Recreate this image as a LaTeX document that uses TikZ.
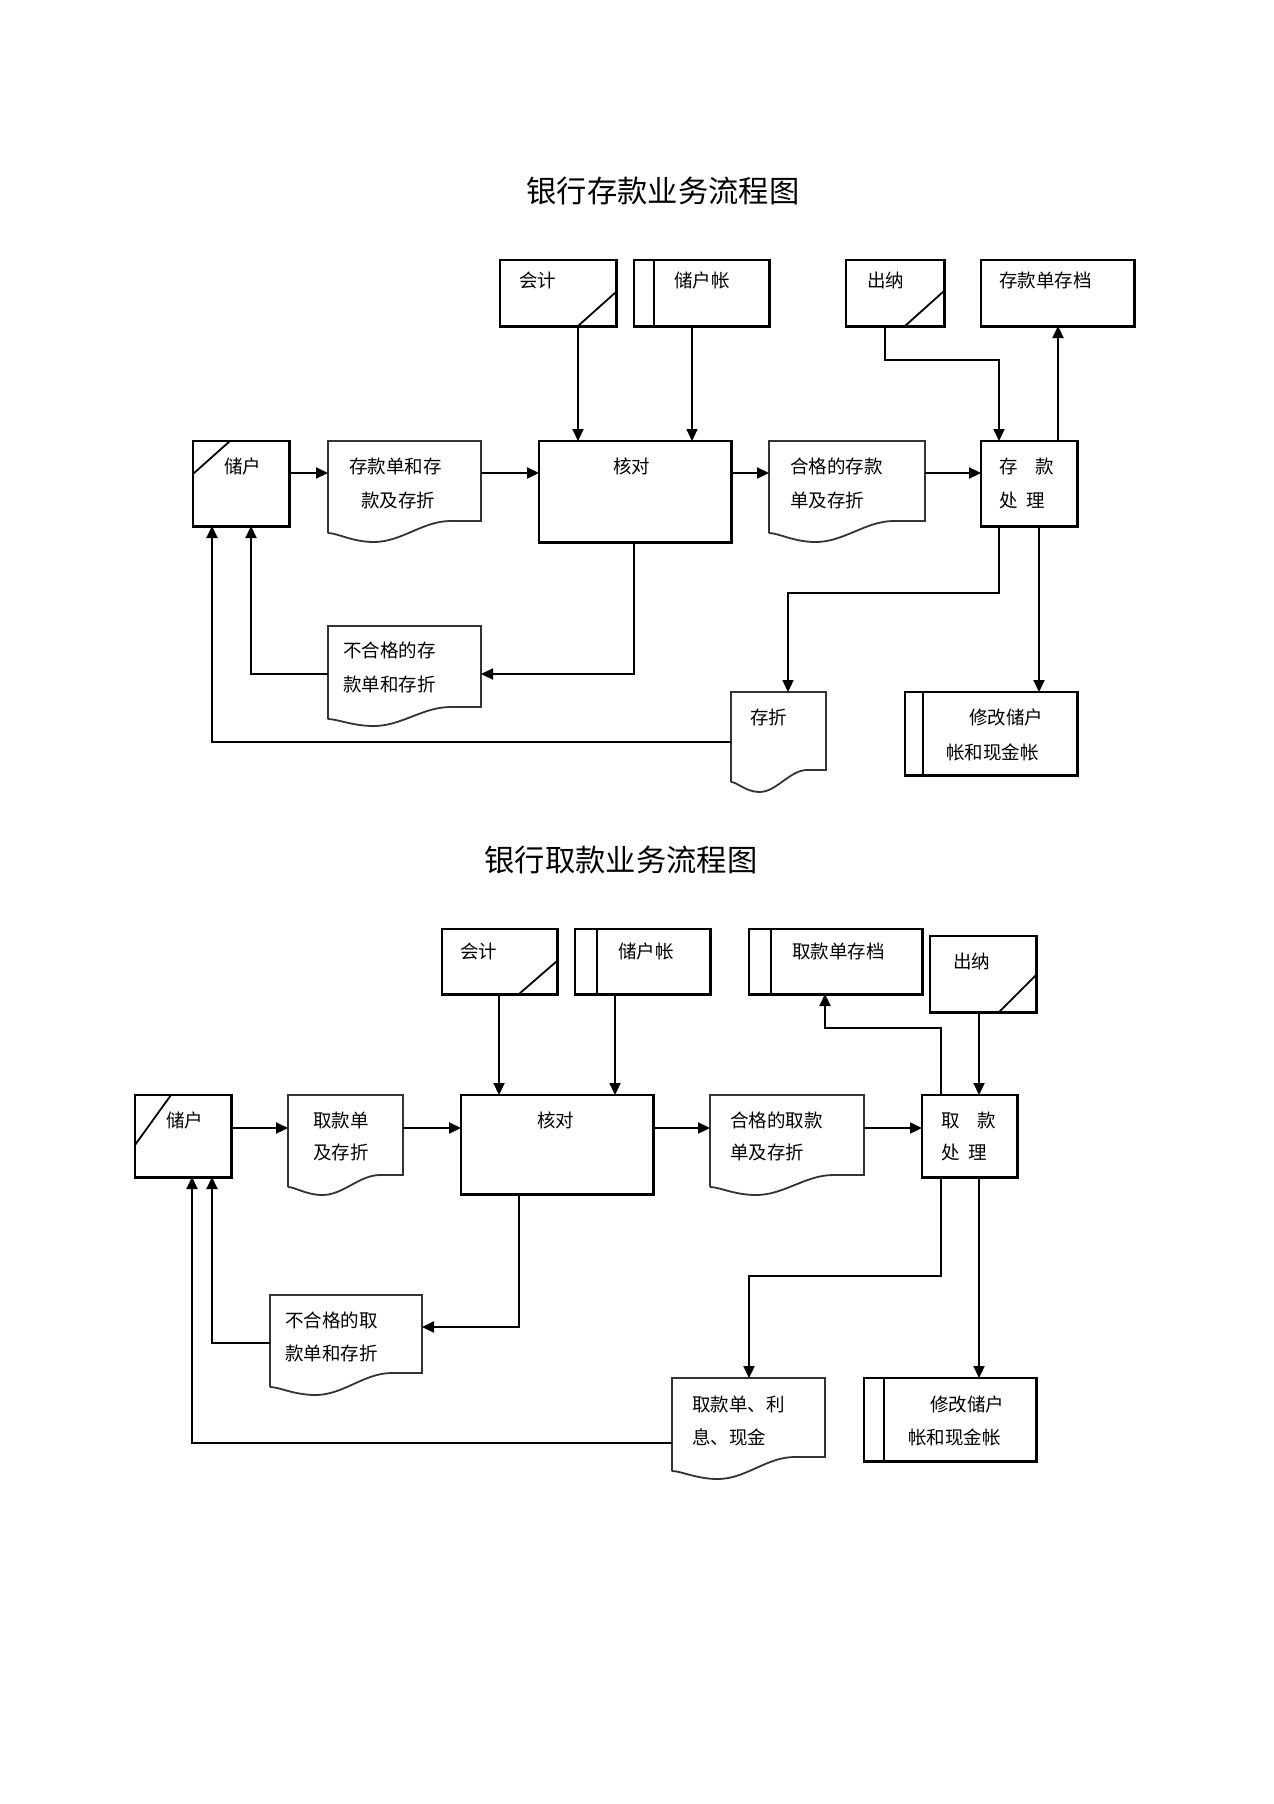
\documentclass[tikz,border=0pt]{standalone}
\usepackage{fontspec}
\setmainfont{Noto Sans CJK SC}
\usetikzlibrary{arrows.meta,calc}
\newcommand\mybox[5]{\node[box, minimum width={#4-#2}, minimum height={#5-#3}] (#1) at (#2,#3) {};
  \draw[shade edge] (#2,#5) -- (#4,#5) -- (#4,#3);}
% name, x1, y1, x2, y-right-bottom, y-left-bottom, y-min
\newcommand\mydoc[7]{%
  \node[docn, minimum width={#4-#2}, minimum height={#5-#3}] (#1) at (#2,#3) {};
  \draw[docline] (#2,#6) -- (#2,#3) -- (#4,#3) -- (#4,#5) -- ({#2+0.8*(#4-#2)},#5)
    .. controls ({#2+0.62*(#4-#2)},#5) and ({#2+0.48*(#4-#2)},#7) .. ({#2+0.3*(#4-#2)},#7)
    .. controls ({#2+0.16*(#4-#2)},#7) and ({#2+0.06*(#4-#2)},#6) .. (#2,#6);}
\begin{document}
\begin{tikzpicture}[x=1pt,y=-1pt,
  box/.style={draw, line width=2.2pt, inner sep=0pt, outer sep=0pt, anchor=north west},
  shade edge/.style={line width=3pt, line cap=rect},
  docn/.style={inner sep=0pt, outer sep=0pt, anchor=north west},
  docline/.style={draw, line width=1.8pt, line join=miter, black!80},
  thin/.style={line width=1.8pt},
  conn/.style={line width=2.2pt},
  arr/.style={conn, -{Triangle[length=12pt,width=11pt]}},
  txt/.style={anchor=west, inner sep=0pt, font=\fontsize{18.5}{22}\selectfont},
  ttl/.style={inner sep=0pt, font=\fontsize{30.3}{36}\selectfont}]
\useasboundingbox[fill=white] (0,0) rectangle (1274,1804);

% ================= Diagram 1 =================
\node[ttl] (title1) at (663,191) {银行存款业务流程图};

\mybox{kj1}{500}{260}{616}{326}
\draw[thin] (578,326) -- (616,292);
\node[txt] (tkj1) at (519,280) {会计};

\mybox{zh1}{634}{260}{769}{326}
\draw[thin] (654,260) -- (654,326);
\node[txt] (tzh1) at (674,280) {储户帐};

\mybox{cn1}{846}{260}{944}{326}
\draw[thin] (905,326) -- (944,291);
\node[txt] (tcn1) at (867,280) {出纳};

\mybox{da1}{981}{260}{1134}{326}
\node[txt] (tda1) at (999,280) {存款单存档};

\mybox{ch1}{193}{441}{289}{526}
\draw[thin] (193,474) -- (230,441);
\node[txt] (tch1) at (224,466) {储户};

\mydoc{d1}{328}{441}{481}{521}{533}{542}
\node[txt] (td1a) at (349,466) {存款单和存};
\node[txt] (td1b) at (361,500) {款及存折};

\mybox{hd1}{539}{441}{731}{542}
\node[txt] (thd1) at (613,466) {核对};

\mydoc{hg1}{769}{441}{925}{521}{533}{542}
\node[txt] (thg1a) at (790,466) {合格的存款};
\node[txt] (thg1b) at (790,500) {单及存折};

\mybox{cl1}{981}{441}{1077}{526}
\node[txt] (tcl1a) at (999,466) {存\hspace{18pt}款};
\node[txt] (tcl1b) at (999,500) {处\hspace{9pt}理};

\mydoc{bh1}{328}{626}{481}{707}{719}{726}
\node[txt] (tbh1a) at (343,650) {不合格的存};
\node[txt] (tbh1b) at (343,684) {款单和存折};

\mydoc{cz1}{731}{692}{826}{770}{782}{792}
\node[txt] (tcz1) at (750,717) {存折};

\mybox{xg1}{905}{692}{1077}{775}
\draw[thin] (923,692) -- (923,775);
\node[txt] (txg1a) at (969,717) {修改储户};
\node[txt] (txg1b) at (946,752) {帐和现金帐};

\coordinate (r1) at (0,473);
\draw[arr] (ch1.east |- r1) -- (d1.west |- r1);
\draw[arr] (d1.east |- r1) -- (hd1.west |- r1);
\draw[arr] (hd1.east |- r1) -- (hg1.west |- r1);
\draw[arr] (hg1.east |- r1) -- (cl1.west |- r1);
\coordinate (k1x) at (578,0);
\draw[arr] (kj1.south -| k1x) -- (hd1.north -| k1x);
\coordinate (z1x) at (692,0);
\draw[arr] (zh1.south -| z1x) -- (hd1.north -| z1x);
\coordinate (c1a) at (885,360);
\coordinate (c1b) at (999,360);
\draw[arr] (cn1.south -| c1a) -- (c1a) -- (c1b) -- (cl1.north -| c1b);
\coordinate (a1x) at (1058,0);
\draw[arr] (cl1.north -| a1x) -- (da1.south -| a1x);
\coordinate (b1) at (634,674);
\draw[arr] (hd1.south -| b1) -- (b1) -- (bh1.east |- b1);
\coordinate (b2) at (251,674);
\draw[arr] (bh1.west |- b2) -- (b2) -- (ch1.south -| b2);
\coordinate (b3) at (212,742);
\draw[arr] (cz1.west |- b3) -- (b3) -- (ch1.south -| b3);
\coordinate (b4) at (999,593);
\coordinate (b5) at (788,593);
\draw[arr] (cl1.south -| b4) -- (b4) -- (b5) -- (cz1.north -| b5);
\coordinate (b6) at (1039,0);
\draw[arr] (cl1.south -| b6) -- (xg1.north -| b6);

% ================= Diagram 2 =================
\node[ttl] (title2) at (621,860) {银行取款业务流程图};

\mybox{kj2}{442}{929}{557}{994}
\draw[thin] (519,994) -- (557,961);
\node[txt] (tkj2) at (460,951) {会计};

\mybox{zh2}{575}{929}{710}{994}
\draw[thin] (597,929) -- (597,994);
\node[txt] (tzh2) at (618,951) {储户帐};

\mybox{da2}{749}{929}{922}{994}
\draw[thin] (771,929) -- (771,994);
\node[txt] (tda2) at (792,951) {取款单存档};

\mybox{cn2}{930}{936}{1036}{1012}
\draw[thin] (999,1012) -- (1036,975);
\node[txt] (tcn2) at (953,961) {出纳};

\mybox{ch2}{135}{1095}{231}{1177}
\draw[thin] (135,1145) -- (171,1095);
\node[txt] (tch2) at (166,1120) {储户};

\mydoc{d2}{288}{1095}{403}{1175}{1187}{1195}
\node[txt] (td2a) at (313,1120) {取款单};
\node[txt] (td2b) at (313,1152) {及存折};

\mybox{hd2}{461}{1095}{653}{1194}
\node[txt] (thd2) at (537,1120) {核对};

\mydoc{hg2}{710}{1095}{864}{1175}{1187}{1195}
\node[txt] (thg2a) at (730,1120) {合格的取款};
\node[txt] (thg2b) at (730,1152) {单及存折};

\mybox{cl2}{922}{1095}{1017}{1177}
\node[txt] (tcl2a) at (941,1120) {取\hspace{18pt}款};
\node[txt] (tcl2b) at (941,1152) {处\hspace{9pt}理};

\mydoc{bh2}{270}{1295}{422}{1373}{1387}{1395}
\node[txt] (tbh2a) at (285,1320) {不合格的取};
\node[txt] (tbh2b) at (285,1353) {款单和存折};

\mydoc{qk2}{672}{1378}{825}{1457}{1471}{1479}
\node[txt] (tqk2a) at (692,1404) {取款单、利};
\node[txt] (tqk2b) at (692,1437) {息、现金};

\mybox{xg2}{864}{1378}{1036}{1461}
\draw[thin] (884,1378) -- (884,1461);
\node[txt] (txg2a) at (930,1404) {修改储户};
\node[txt] (txg2b) at (908,1437) {帐和现金帐};

\coordinate (r2) at (0,1128);
\draw[arr] (ch2.east |- r2) -- (d2.west |- r2);
\draw[arr] (d2.east |- r2) -- (hd2.west |- r2);
\draw[arr] (hd2.east |- r2) -- (hg2.west |- r2);
\draw[arr] (hg2.east |- r2) -- (cl2.west |- r2);
\coordinate (k2x) at (499,0);
\draw[arr] (kj2.south -| k2x) -- (hd2.north -| k2x);
\coordinate (z2x) at (615,0);
\draw[arr] (zh2.south -| z2x) -- (hd2.north -| z2x);
\coordinate (c2x) at (979,0);
\draw[arr] (cn2.south -| c2x) -- (cl2.north -| c2x);
\coordinate (e1) at (941,1028);
\coordinate (e2) at (825,1028);
\draw[arr] (cl2.north -| e1) -- (e1) -- (e2) -- (da2.south -| e2);
\coordinate (f1) at (519,1327);
\draw[arr] (hd2.south -| f1) -- (f1) -- (bh2.east |- f1);
\coordinate (f2) at (212,1343);
\draw[arr] (bh2.west |- f2) -- (f2) -- (ch2.south -| f2);
\coordinate (f3) at (192,1443);
\draw[arr] (qk2.west |- f3) -- (f3) -- (ch2.south -| f3);
\coordinate (f4) at (941,1276);
\coordinate (f5) at (749,1276);
\draw[arr] (cl2.south -| f4) -- (f4) -- (f5) -- (qk2.north -| f5);
\coordinate (f6) at (979,0);
\draw[arr] (cl2.south -| f6) -- (xg2.north -| f6);
\end{tikzpicture}
\end{document}
